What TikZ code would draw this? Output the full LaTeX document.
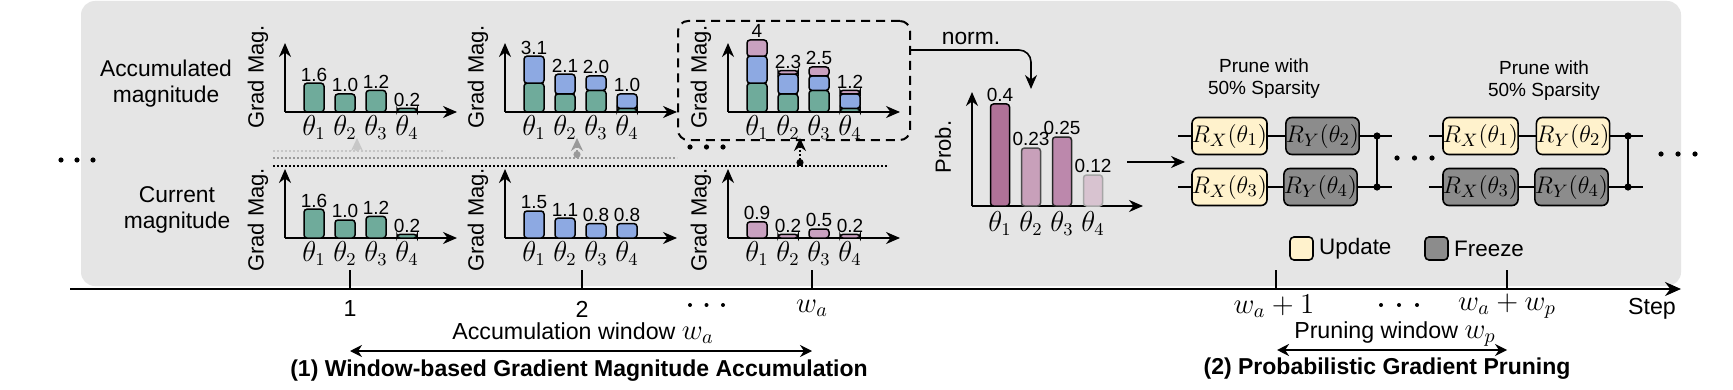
\documentclass[tikz,border=0pt]{standalone}
\usepackage[no-math]{fontspec}
\setmainfont{Liberation Sans}
\usepackage{xcolor}
\usetikzlibrary{positioning, arrows.meta, calc}
\definecolor{panelgray}{HTML}{E5E5E5}
\definecolor{gmgreen}{HTML}{6FAB9B}
\definecolor{gmblue}{HTML}{8DA9E2}
\definecolor{gmpink}{HTML}{C9A1C0}
\definecolor{prob1}{HTML}{B07298}
\definecolor{prob2}{HTML}{C8A0BA}
\definecolor{prob3}{HTML}{BC88AC}
\definecolor{prob4}{HTML}{D8C3D0}
\definecolor{upd}{HTML}{FFF2CC}
\definecolor{frz}{HTML}{8C8C8C}

% one bar chart frame: #1 name, (#2,#3) origin, #4 shift of the y label
\newcommand{\gradaxes}[4]{%
  \coordinate (#1) at (#2,#3);
  \draw[chartaxis] (#1) -- ++(0,-69);
  \draw[chartaxis] (#1) -- ++(172,0);
  \node[ylbl] (#1-y) at ($(#1)+(-27,#4)$) {Grad Mag.};
  \foreach \i in {1,...,4}
    \node[tlbl] (#1-t\i) at ($(#1)+(-2+31*\i,1)$) {$\theta_\i$};
}
% three dots: start (#2,#3), spacing #4
\newcommand{\threedots}[4][1.3pt]{%
  \foreach \k in {0,1,2} \fill (#2+#4*\k,#3) circle (#1);
}
\newcommand{\bigmath}[1]{{\fontsize{14}{16}\selectfont$#1$}}

\begin{document}
\begin{tikzpicture}[
    x=0.5pt, y=-0.5pt,
    chartaxis/.style={line width=1pt, -{Stealth[length=7pt, width=6pt]}},
    gbar/.style={draw, line width=0.75pt, rounded corners=1.5pt, fill=#1},
    vlbl/.style={font=\fontsize{9.5}{11}\selectfont, inner sep=0.8pt, anchor=south},
    tlbl/.style={font=\fontsize{13.5}{15}\selectfont, inner sep=1pt, anchor=north},
    ylbl/.style={font=\fontsize{11}{13}\selectfont, rotate=90, inner sep=0pt},
    sidelbl/.style={font=\fontsize{11.4}{13}\selectfont, align=center},
    gatebox/.style={draw, line width=0.8pt, rounded corners=3pt, fill=#1,
        minimum width=36.5pt, minimum height=18.5pt, inner sep=0pt,
        font=\fontsize{12.5}{14}\selectfont},
    wire/.style={line width=0.8pt},
    prunelbl/.style={font=\fontsize{9.5}{11}\selectfont, align=center},
    legbox/.style={draw, line width=0.8pt, rounded corners=2pt, fill=#1,
        minimum size=11.5pt, inner sep=0pt},
    leglbl/.style={font=\fontsize{11.2}{13}\selectfont, inner sep=0pt},
    steplbl/.style={font=\fontsize{11.6}{13}\selectfont, inner sep=0.5pt},
    mathlbl/.style={font=\fontsize{14}{16}\selectfont, inner sep=0.5pt},
    winlbl/.style={font=\fontsize{11.6}{13}\selectfont, inner sep=0.5pt},
    caplbl/.style={font=\bfseries\fontsize{11.5}{13}\selectfont},
    dotline/.style={line width=0.8pt, dash pattern=on 0.9pt off 1.1pt},
    uparr/.style={dotline, {Circle[length=3.5pt]}-{Stealth[length=6.5pt, width=6pt]}},
    flow/.style={line width=0.8pt, -{Stealth[length=7pt, width=6pt]}},
    winarr/.style={line width=0.9pt, {Stealth[length=6pt, width=6pt]}-{Stealth[length=6pt, width=6pt]}}
]
\useasboundingbox (0,0) rectangle (1733,390);
\fill[white] (0,0) rectangle (1733,390);
\node[fill=panelgray, rounded corners=7pt, minimum width=800pt,
      minimum height=142.5pt, inner sep=0pt] (panel) at (881,143.5) {};

% === Row labels ===
\node[sidelbl] (acclbl) at (166,84) {Accumulated\\magnitude};
\node[sidelbl] (curlbl) at (177,210) {Current\\magnitude};
\threedots{61}{160}{16}

% === Accumulated magnitude ===
\gradaxes{acc1}{285}{112}{-35}
\gradaxes{acc2}{505}{112}{-35}
\gradaxes{acc3}{728}{112}{-35}
\foreach \i/\g in {1/1.6, 2/1.0, 3/1.2, 4/0.2} {
  \draw[gbar=gmgreen] ($(acc1)+(-12+31*\i,0)$) rectangle ++(20,-18*\g);
  \node[vlbl] at ($(acc1)+(-2+31*\i,-18*\g)$) {\g};
}
\foreach \i/\g/\b/\v in {1/1.6/1.5/3.1, 2/1.0/1.1/2.1, 3/1.2/0.8/2.0, 4/0.2/0.8/1.0} {
  \draw[gbar=gmgreen] ($(acc2)+(-12+31*\i,0)$) rectangle ++(20,-18*\g);
  \draw[gbar=gmblue] ($(acc2)+(-12+31*\i,-18*\g)$) rectangle ++(20,-18*\b);
  \node[vlbl] at ($(acc2)+(-2+31*\i,-18*\v)$) {\v};
}
\foreach \i/\g/\b/\p/\v in {1/1.6/1.5/0.9/4, 2/1.0/1.1/0.2/2.3, 3/1.2/0.8/0.5/2.5, 4/0.2/0.8/0.2/1.2} {
  \draw[gbar=gmgreen] ($(acc3)+(-12+31*\i,0)$) rectangle ++(20,-18*\g);
  \draw[gbar=gmblue] ($(acc3)+(-12+31*\i,-18*\g)$) rectangle ++(20,-18*\b);
  \draw[gbar=gmpink] ($(acc3)+(-12+31*\i,-18*\g-18*\b)$) rectangle ++(20,-18*\p);
  \node[vlbl] at ($(acc3)+(-2+31*\i,-18*\v)$) {\v};
}
\node[draw, line width=1pt, dash pattern=on 4.5pt off 3pt, rounded corners=5pt,
      minimum width=116pt, minimum height=59.5pt] (accbox) at (794,80.5) {};
\threedots{690}{147}{16.5}

% === Current magnitude ===
\gradaxes{cur1}{285}{238}{-18}
\gradaxes{cur2}{505}{238}{-18}
\gradaxes{cur3}{728}{238}{-18}
\foreach \i/\g in {1/1.6, 2/1.0, 3/1.2, 4/0.2} {
  \draw[gbar=gmgreen] ($(cur1)+(-12+31*\i,0)$) rectangle ++(20,-18*\g);
  \node[vlbl] at ($(cur1)+(-2+31*\i,-18*\g)$) {\g};
}
\foreach \i/\b in {1/1.5, 2/1.1, 3/0.8, 4/0.8} {
  \draw[gbar=gmblue] ($(cur2)+(-12+31*\i,0)$) rectangle ++(20,-18*\b);
  \node[vlbl] at ($(cur2)+(-2+31*\i,-18*\b)$) {\b};
}
\foreach \i/\p in {1/0.9, 2/0.2, 3/0.5, 4/0.2} {
  \draw[gbar=gmpink] ($(cur3)+(-12+31*\i,0)$) rectangle ++(20,-18*\p);
  \node[vlbl] at ($(cur3)+(-2+31*\i,-18*\p)$) {\p};
}

% === Add current to accumulated ===
\draw[dotline, black!22] (273,151) -- (445,151);
\draw[dotline, black!40] (273,158) -- (677,158);
\draw[dotline] (273,166) -- (888,166);
\coordinate (up1s) at (357,151); \coordinate (up1e) at (357,138);
\coordinate (up2s) at (577,158); \coordinate (up2e) at (577,138);
\coordinate (up3s) at (800,166); \coordinate (up3e) at (800,138);
\draw[uparr, black!22] (up1s) -- (up1e);
\draw[uparr, black!40] (up2s) -- (up2e);
\draw[uparr] (up3s) -- (up3e);

% === Normalized probability ===
\coordinate (prob) at (972,206);
\draw[chartaxis] (prob) -- ++(0,-114);
\draw[chartaxis] (prob) -- ++(171,0);
\node[ylbl] (prob-y) at ($(prob)+(-29,-59)$) {Prob.};
\foreach \i/\h/\v/\c/\e in {1/102/0.4/prob1/black, 2/58/0.23/prob2/black!70,
    3/69/0.25/prob3/black!85, 4/31/0.12/prob4/black!35} {
  \draw[gbar=\c, draw=\e] ($(prob)+(-12.5+31*\i,0)$) rectangle ++(19,-\h);
  \node[vlbl] at ($(prob)+(-3+31*\i,-\h)$) {\v};
  \node[tlbl] (prob-t\i) at ($(prob)+(-3+31*\i,3)$) {$\theta_\i$};
}
\coordinate (normbend) at (1031,50);
\coordinate (normend) at (1031,89);
\draw[flow, rounded corners=6pt] (accbox.east |- normbend)
  -- node[above, font=\fontsize{11.4}{13}\selectfont, inner sep=2pt] {norm.} (normbend) -- (normend);
\coordinate (probout) at (1127,162);
\coordinate (circin) at (1185,162);
\draw[flow] (probout) -- (circin);

% === Pruned circuit, step w_a+1 ===
\node[prunelbl] (c1lbl) at (1264,79) {Prune with\\50\% Sparsity};
\node[gatebox=upd] (c1rx1) at (1229.5,136) {$R_X(\theta_1)$};
\node[gatebox=frz] (c1ry2) at (1322.5,136) {$R_Y(\theta_2)$};
\node[gatebox=upd] (c1rx3) at (1229.5,187) {$R_X(\theta_3)$};
\node[gatebox=frz] (c1ry4) at (1320.5,187) {$R_Y(\theta_4)$};
\coordinate (c1q1) at (1377,136);
\coordinate (c1q2) at (1377,187);
\draw[wire] (c1rx1.west) -- ++(-13,0);
\draw[wire] (c1rx3.west) -- ++(-13,0);
\draw[wire] (c1rx1) -- (c1ry2);
\draw[wire] (c1rx3) -- (c1ry4);
\draw[wire] (c1ry2.east) -- (c1q1) -- ++(15,0);
\draw[wire] (c1ry4.east) -- (c1q2) -- ++(15,0);
\draw[wire] (c1q1) -- (c1q2);
\fill (c1q1) circle (1.8pt) (c1q2) circle (1.8pt);
\threedots{1397}{158}{17.5}

% === Pruned circuit, step w_a+w_p ===
\node[prunelbl] (c2lbl) at (1544,81) {Prune with\\50\% Sparsity};
\node[gatebox=upd] (c2rx1) at (1480.5,136) {$R_X(\theta_1)$};
\node[gatebox=upd] (c2ry2) at (1573,136) {$R_Y(\theta_2)$};
\node[gatebox=frz] (c2rx3) at (1480.5,187) {$R_X(\theta_3)$};
\node[gatebox=frz] (c2ry4) at (1571.5,187) {$R_Y(\theta_4)$};
\coordinate (c2q1) at (1628,136);
\coordinate (c2q2) at (1628,187);
\draw[wire] (c2rx1.west) -- ++(-13,0);
\draw[wire] (c2rx3.west) -- ++(-13,0);
\draw[wire] (c2rx1) -- (c2ry2);
\draw[wire] (c2rx3) -- (c2ry4);
\draw[wire] (c2ry2.east) -- (c2q1) -- ++(15,0);
\draw[wire] (c2ry4.east) -- (c2q2) -- ++(15,0);
\draw[wire] (c2q1) -- (c2q2);
\fill (c2q1) circle (1.8pt) (c2q2) circle (1.8pt);
\threedots{1661}{154}{17}

% === Legend ===
\node[legbox=upd] (updbox) at (1301.5,248.5) {};
\node[leglbl, right=2.5pt of updbox] (updlbl) {Update};
\node[legbox=frz] (frzbox) at (1436.5,248.5) {};
\node[leglbl, right=2.5pt of frzbox] (frzlbl) {Freeze};

% === Step axis ===
\coordinate (axstart) at (70,289);
\coordinate (axend) at (1681,289);
\draw[line width=1.2pt, -{Stealth[length=8pt, width=7pt]}] (axstart) -- (axend);
\foreach \x in {350, 582, 812, 1276, 1507}
  \draw[line width=0.6pt] (\x,270) -- (\x,289);
\node[steplbl] (s1) at (350,309) {1};
\node[steplbl] (s2) at (582,309) {2};
\node[mathlbl] (swa) at (812,308) {$w_a$};
\node[mathlbl] (swa1) at (1274,306) {$w_a+1$};
\node[mathlbl] (swp) at (1507,306) {$w_a+w_p$};
\node[steplbl] (steplbl) at (1652,309) {Step};
\threedots[1pt]{690}{305}{16.5}
\threedots[1pt]{1381}{305}{18}

% === Windows ===
\coordinate (win1s) at (350,351); \coordinate (win1e) at (812,351);
\coordinate (win2s) at (1277,350); \coordinate (win2e) at (1507,350);
\draw[winarr] (win1s) -- (win1e);
\draw[winarr] (win2s) -- (win2e);
\node[winlbl] (accwin) at (583,333) {Accumulation window \bigmath{w_a}};
\node[winlbl] (prunewin) at (1395,334) {Pruning window \bigmath{w_p}};
\node[caplbl] (cap1) at (579,371) {(1) Window-based Gradient Magnitude Accumulation};
\node[caplbl] (cap2) at (1387,369) {(2) Probabilistic Gradient Pruning};

\end{tikzpicture}
\end{document}
